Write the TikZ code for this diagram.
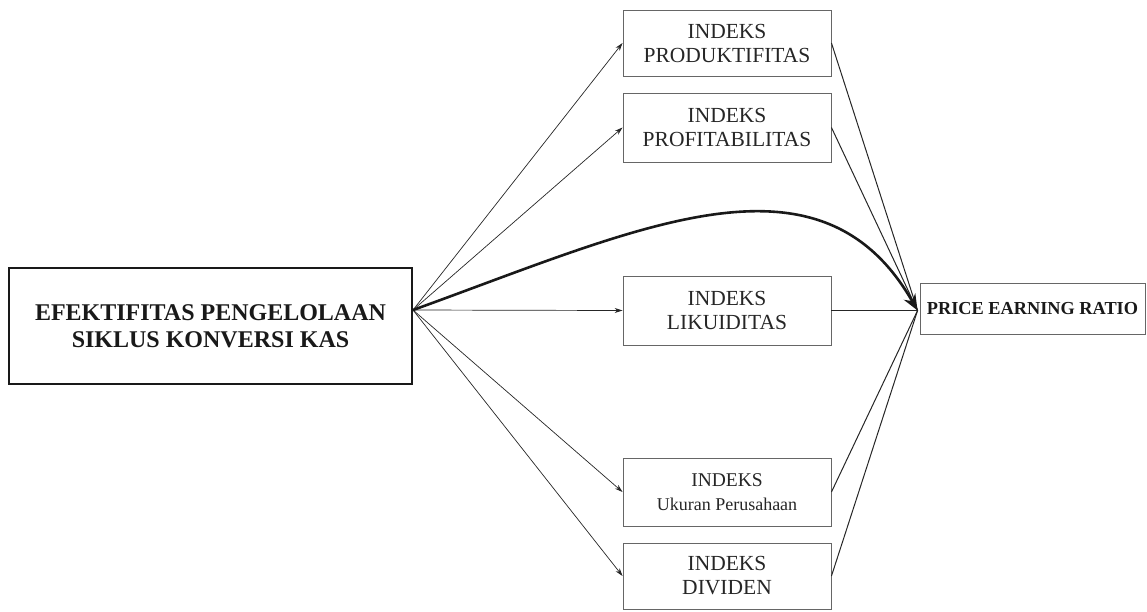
\documentclass[tikz,border=0pt]{standalone}
\usepackage{fontspec}
\setmainfont{Liberation Serif}
\usetikzlibrary{arrows.meta,calc}
\begin{document}
\begin{tikzpicture}[x=1pt,y=-1pt,
  ibox/.style={draw=black!60,line width=0.9pt,minimum width=208pt,align=center,inner sep=0pt,font=\fontsize{21.5}{24}\selectfont,text=black!85},
  conn/.style={line width=0.7pt,draw=black!85,-{Stealth[length=8pt,width=5pt]}},
  plain/.style={line width=1pt,draw=black!85},
  bigc/.style={line width=2.6pt,draw=black!90,-{Stealth[length=16pt,width=13pt]}}]
\useasboundingbox (0,0) rectangle (1147,611);
\node[draw=black!90,line width=2pt,minimum width=403pt,minimum height=116pt,align=center,inner sep=0pt,font=\fontsize{24}{27}\selectfont\bfseries,text=black!90] (L) at (210.5,326) {EFEKTIFITAS PENGELOLAAN\\SIKLUS KONVERSI KAS};
\node[ibox,minimum height=66pt] (b1) at (727,43) {INDEKS\\PRODUKTIFITAS};
\node[ibox,minimum height=69pt] (b2) at (727,127.5) {INDEKS\\PROFITABILITAS};
\node[ibox,minimum height=69pt] (b3) at (727,310.5) {INDEKS\\LIKUIDITAS};
\node[ibox,minimum height=68pt] (b4) at (727,492) {\fontsize{19.5}{23}\selectfont INDEKS\\\fontsize{18}{20}\selectfont Ukuran Perusahaan};
\node[ibox,minimum height=66pt] (b5) at (727,576) {INDEKS\\DIVIDEN};
\node[draw=black!60,line width=0.9pt,minimum width=225pt,minimum height=51pt,inner sep=0pt,font=\fontsize{18.3}{20}\selectfont\bfseries,text=black!90] (P) at (1032.5,308.5) {PRICE EARNING RATIO};
\coordinate (src) at ($(L.east)+(0,-16)$);
\coordinate (dst) at ($(P.west)+(-2,2)$);
\draw[conn] (src) -- (b1.west);
\draw[conn] (src) -- (b2.west);
\draw[conn] (src) -- (b3.west);
\draw[conn] (src) -- (b4.west);
\draw[conn] (src) -- (b5.west);
\draw[plain] (b1.east) -- (dst);
\draw[plain] (b2.east) -- (dst);
\draw[plain] (b3.east) -- (dst);
\draw[plain] (b4.east) -- (dst);
\draw[plain] (b5.east) -- (dst);
\draw[bigc] (src) .. controls (640,228) and (820,140) .. (dst);
\end{tikzpicture}
\end{document}
